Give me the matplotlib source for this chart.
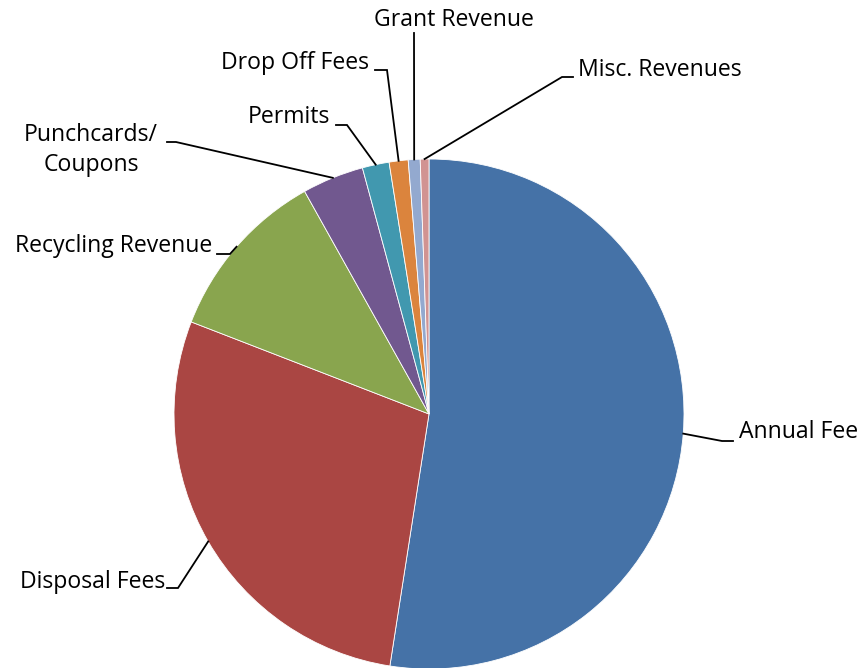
import matplotlib
matplotlib.use('Agg')
import matplotlib.pyplot as plt
import numpy as np

labels = ["Annual Fee", "Disposal Fees", "Recycling Revenue", "Punchcards/\nCoupons",
          "Permits", "Drop Off Fees", "Grant Revenue", "Misc. Revenues"]
shares = [52.4, 28.4, 11.0, 3.9, 1.7, 1.2, 0.75, 0.55]
colors = ['#4572A7', '#AA4643', '#89A54E', '#71588F',
          '#4198AF', '#DB843D', '#93A9CF', '#D19392']

W, H = 864, 668

plt.rcParams['font.family'] = ['Open Sans', 'DejaVu Sans']

fig = plt.figure(figsize=(W / 100, H / 100), dpi=100)
ax = fig.add_axes([0, 0, 1, 1])

cx, cy, r = 429, H - 414, 255
wedges, _ = ax.pie(shares, colors=colors, startangle=90, counterclock=False,
                   center=(cx, cy), radius=r, frame=True,
                   wedgeprops=dict(edgecolor='white', linewidth=0.6))
ax.set_xlim(0, W)
ax.set_ylim(0, H)
ax.set_aspect('equal')
ax.axis('off')

# label layout in pixel coords (from top): text x, text y, alignment, elbow x, elbow end x, elbow y
layout = [
    (739, 432, 'left', 722, 733, 441),
    (165, 582, 'right', 178, 167, 588),
    (212, 246, 'right', 230, 217, 254),
    (91, 150, 'center', 176, 167, 142),
    (330, 117, 'right', 347, 336, 125),
    (369, 63, 'right', 387, 375, 70),
    (454, 20, 'center', 414, 414, 33),
    (578, 70, 'left', 562, 573, 77),
]

for w, lab, (tx, ty, ha, ex, ex2, ey) in zip(wedges, labels, layout):
    mid = np.deg2rad((w.theta1 + w.theta2) / 2)
    px, py = cx + r * np.cos(mid), cy + r * np.sin(mid)
    ax.plot([px, ex, ex2], [py, H - ey, H - ey], color='black', lw=1.3,
            solid_joinstyle='miter')
    ax.text(tx, H - ty, lab, ha=ha, va='center', fontsize=16.6, color='black',
            linespacing=1.35, multialignment='center')

fig.savefig('out.png', dpi=100, facecolor='white')
